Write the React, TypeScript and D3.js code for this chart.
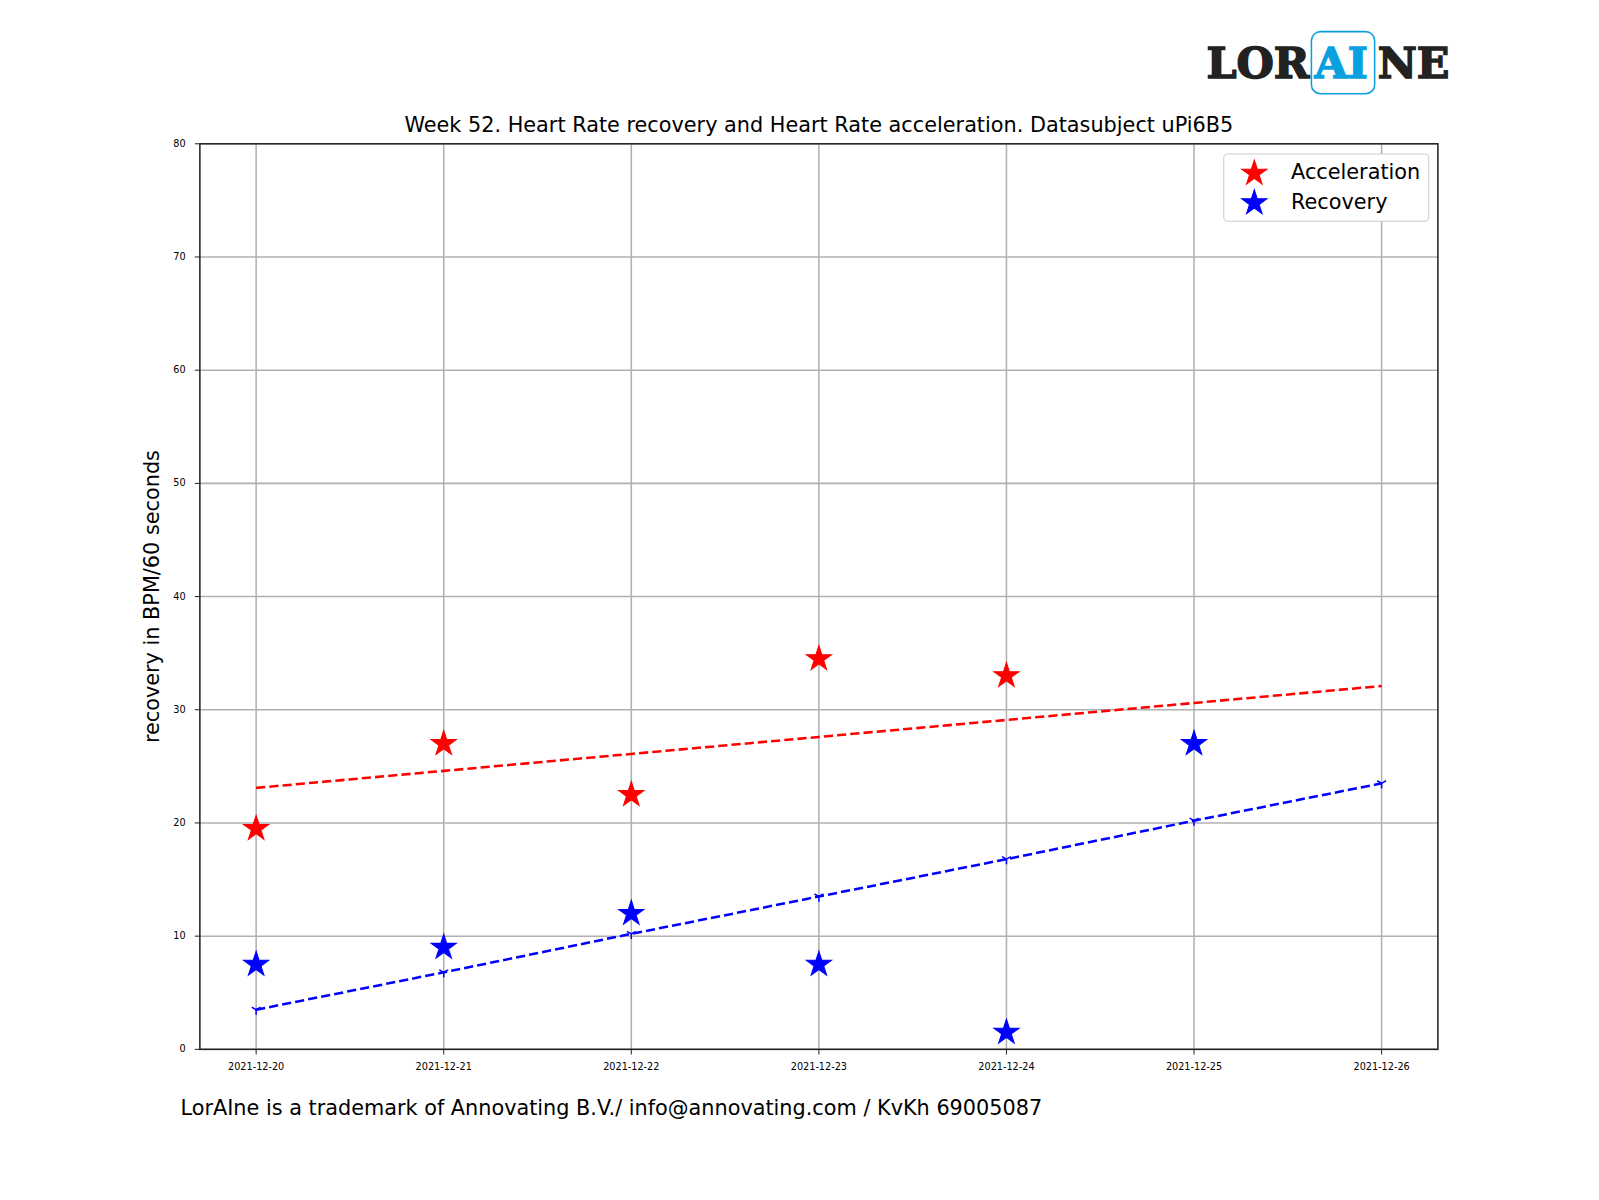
import React from "react";
import * as d3 from "d3";

const dates = ["2021-12-20","2021-12-21","2021-12-22","2021-12-23","2021-12-24","2021-12-25","2021-12-26"];
const acceleration = [19.5, 27, 22.5, 34.5, 33];
const recovery = [7.5, 9, 12, 7.5, 1.5, 27];
const accelTrend = [23.1, 24.6, 26.1, 27.6, 29.1, 30.6, 32.1];
const recovTrend = [3.5, 6.8, 10.2, 13.5, 16.8, 20.2, 23.5];
const yTicks = [0, 10, 20, 30, 40, 50, 60, 70, 80];

const K = 1599 / 1568;
const L = 196, R = 1410, T = 141, B = 1029;
const x = d3.scaleLinear().domain([-0.3, 6.3]).range([L, R]);
const y = d3.scaleLinear().domain([0, 80]).range([B, T]);
const star = d3.symbol().type(d3.symbolStar).size(190)()!;
const font = "DejaVu Sans, sans-serif";
const FS = 20.4;

function TriDown({ cx, cy }: { cx: number; cy: number }) {
  const s = 5;
  return (
    <g stroke="blue" strokeWidth={1.5}>
      <line x1={cx} y1={cy} x2={cx} y2={cy + s} />
      <line x1={cx} y1={cy} x2={cx - s * 0.87} y2={cy - s * 0.5} />
      <line x1={cx} y1={cy} x2={cx + s * 0.87} y2={cy - s * 0.5} />
    </g>
  );
}

export default function App() {
  const line = d3.line<number>().x((_, i) => x(i)).y((v) => y(v));
  return (
    <svg width={1599} height={1200} style={{ position: "fixed", left: 0, top: 0 }} fontFamily={font}>
      <rect width={1599} height={1200} fill="white" />
      <g transform={`scale(${K})`}>
        <g fontFamily="DejaVu Serif, serif" fontWeight="bold" fontSize={42}>
          <text x={1183} y={76} fill="#222" stroke="#222" strokeWidth={1.5}>LOR</text>
          <rect x={1286} y={31} width={62} height={61} rx={9} fill="none" stroke="#0aa0e0" strokeWidth={1.5} />
          <text x={1289} y={76} fill="#0aa0e0" stroke="#0aa0e0" strokeWidth={1.5}>AI</text>
          <text x={1351} y={76} fill="#222" stroke="#222" strokeWidth={1.5}>NE</text>
        </g>
        <text x={803} y={129} textAnchor="middle" fontSize={FS}>Week 52. Heart Rate recovery and Heart Rate acceleration. Datasubject uPi6B5</text>
        {yTicks.map((t) => (
          <g key={t}>
            <line x1={L} x2={R} y1={y(t)} y2={y(t)} stroke="#b0b0b0" strokeWidth={1.5} />
            <line x1={L - 5} x2={L} y1={y(t)} y2={y(t)} stroke="#222" />
            <text x={L - 14} y={y(t) + 3} textAnchor="end" fontSize={9.5}>{t}</text>
          </g>
        ))}
        {dates.map((d, i) => (
          <g key={d}>
            <line x1={x(i)} x2={x(i)} y1={T} y2={B} stroke="#b0b0b0" strokeWidth={1.5} />
            <line x1={x(i)} x2={x(i)} y1={B} y2={B + 5} stroke="#222" />
            <text x={x(i)} y={B + 20} textAnchor="middle" fontSize={9.5}>{d}</text>
          </g>
        ))}
        <path d={line(accelTrend)!} fill="none" stroke="red" strokeWidth={2.5} strokeDasharray="9,4" />
        <path d={line(recovTrend)!} fill="none" stroke="blue" strokeWidth={2.5} strokeDasharray="9,4" />
        {recovTrend.map((v, i) => <TriDown key={i} cx={x(i)} cy={y(v)} />)}
        {acceleration.map((v, i) => <path key={"a" + i} d={star} transform={`translate(${x(i)},${y(v)})`} fill="red" stroke="red" strokeWidth={1} />)}
        {recovery.map((v, i) => <path key={"r" + i} d={star} transform={`translate(${x(i)},${y(v)})`} fill="blue" stroke="blue" strokeWidth={1} />)}
        <rect x={L} y={T} width={R - L} height={B - T} fill="none" stroke="#222" strokeWidth={1.5} />
        <text transform={`translate(156,${(T + B) / 2}) rotate(-90)`} textAnchor="middle" fontSize={FS}>recovery in BPM/60 seconds</text>
        <rect x={1200} y={151} width={201} height={66} rx={4} fill="white" stroke="#ccc" />
        <path d={star} transform="translate(1230,170)" fill="red" stroke="red" />
        <text x={1266} y={176} fontSize={FS}>Acceleration</text>
        <path d={star} transform="translate(1230,199)" fill="blue" stroke="blue" />
        <text x={1266} y={205} fontSize={FS}>Recovery</text>
        <text x={177} y={1093} fontSize={FS}>LorAIne is a trademark of Annovating B.V./ info@annovating.com / KvKh 69005087</text>
      </g>
    </svg>
  );
}
